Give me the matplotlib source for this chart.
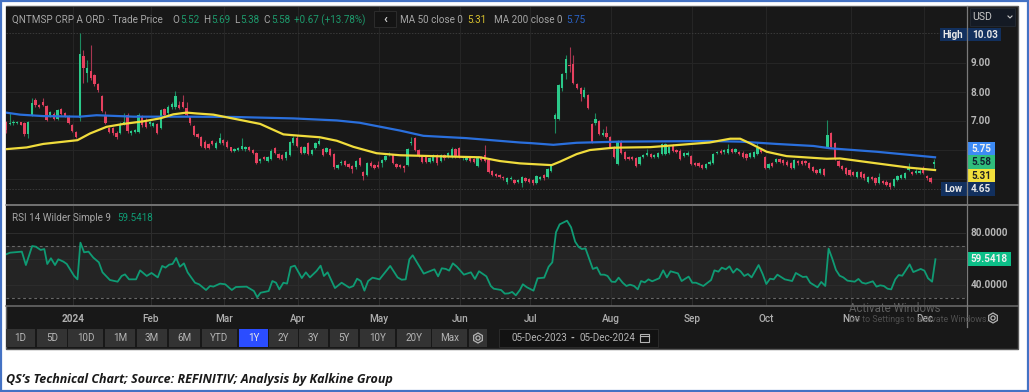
import matplotlib

matplotlib.use('Agg')

import numpy as np
import matplotlib.pyplot as plt
from matplotlib.patches import Rectangle, RegularPolygon, Circle

W, H = 1029, 392

opens = [6.98, 6.90, 6.92, 6.92, 6.95, 6.94, 6.55, 7.21, 7.72, 7.55,
         7.67, 7.52, 7.21, 7.24, 7.06, 7.40, 7.26, 7.18, 6.86, 6.63,
         7.09, 9.25, 8.64, 8.72, 8.58, 8.26, 7.86, 7.21, 6.75, 6.75,
         6.60, 6.60, 6.90, 7.21, 6.57, 6.63, 6.63, 7.15, 7.03, 6.90,
         6.83, 6.90, 6.77, 7.40, 7.26, 7.47, 7.47, 7.55, 7.67, 7.44,
         7.13, 6.84, 6.54, 6.46, 6.29, 6.21, 6.31, 6.06, 6.25, 6.34,
         6.29, 6.09, 5.97, 6.00, 6.03, 6.02, 6.11, 6.00, 5.89, 5.61,
         5.75, 5.63, 5.70, 6.06, 5.86, 5.83, 5.71, 5.83, 6.23, 6.40,
         6.11, 5.89, 6.23, 5.86, 6.06, 6.21, 6.03, 5.94, 6.02, 5.85,
         5.37, 5.54, 5.62, 5.51, 5.46, 5.40, 5.71, 5.25, 5.14, 5.57,
         5.48, 5.48, 5.56, 5.66, 5.82, 5.83, 5.52, 5.48, 5.46, 5.48,
         6.23, 6.40, 6.00, 5.79, 5.75, 5.60, 5.63, 5.83, 5.62, 5.83,
         5.77, 5.77, 6.02, 6.08, 5.71, 5.66, 5.71, 5.68, 5.46, 5.74,
         5.83, 5.66, 5.28, 5.17, 5.14, 5.08, 4.91, 4.99, 4.97, 4.91,
         4.87, 5.02, 5.00, 4.97, 4.87, 5.00, 5.14, 5.08, 5.28, 7.06,
         7.06, 8.13, 8.67, 8.93, 8.97, 8.26, 8.13, 7.84, 7.90, 6.90,
         6.92, 7.01, 6.52, 6.57, 6.46, 6.11, 5.52, 6.31, 5.94, 5.77,
         5.77, 5.71, 5.52, 5.75, 5.83, 5.85, 5.75, 5.77, 5.86, 5.86,
         5.91, 6.17, 6.00, 5.98, 5.80, 5.83, 5.79, 5.56, 5.54, 5.48,
         5.39, 5.52, 5.57, 5.89, 5.98, 5.92, 5.89, 6.02, 5.93, 5.94,
         5.91, 5.86, 5.77, 5.75, 5.86, 6.00, 5.77, 5.39, 5.54, 5.60,
         5.68, 5.66, 5.60, 5.54, 5.37, 5.63, 5.62, 5.62, 5.54, 5.40,
         5.31, 5.20, 5.33, 6.11, 6.57, 6.23, 5.62, 5.46, 5.37, 5.31,
         5.25, 5.06, 5.23, 5.16, 4.91, 5.06, 5.02, 4.88, 4.93, 4.91,
         4.85, 4.76, 4.97, 5.05, 5.05, 5.31, 5.25, 5.20, 5.20, 5.31,
         5.11, 5.02, 5.52]
closes = [6.69, 6.92, 6.98, 6.96, 6.88, 6.55, 6.98, 7.63, 7.54, 7.47,
          7.55, 7.03, 7.32, 7.06, 7.38, 7.24, 7.17, 6.94, 6.67, 6.44,
          9.30, 8.82, 8.82, 8.50, 8.26, 8.07, 7.34, 6.94, 6.63, 6.57,
          6.44, 6.90, 6.98, 6.66, 6.66, 6.69, 7.21, 6.86, 6.80, 6.98,
          6.94, 6.60, 7.38, 7.21, 7.49, 7.59, 7.86, 7.44, 7.49, 7.21,
          6.92, 6.52, 6.44, 6.15, 6.06, 6.06, 6.20, 6.25, 6.40, 6.23,
          6.11, 5.98, 6.03, 6.07, 6.15, 6.11, 6.00, 5.89, 5.57, 5.70,
          5.68, 5.75, 5.98, 5.89, 5.72, 5.68, 5.94, 6.26, 6.40, 6.14,
          5.91, 6.11, 5.86, 6.00, 6.23, 6.32, 5.83, 6.06, 5.83, 5.40,
          5.48, 5.60, 5.48, 5.43, 5.33, 5.63, 5.48, 5.11, 5.54, 5.46,
          5.39, 5.43, 5.66, 5.79, 5.86, 5.57, 5.43, 5.43, 5.39, 6.02,
          6.29, 6.00, 5.79, 5.60, 5.60, 5.71, 5.83, 5.54, 5.83, 5.71,
          5.89, 6.02, 5.77, 5.77, 5.77, 5.74, 5.63, 5.60, 5.74, 5.66,
          5.63, 5.25, 5.14, 5.10, 5.08, 5.02, 5.02, 5.05, 4.87, 4.97,
          5.08, 4.93, 4.91, 4.85, 5.10, 5.08, 5.02, 5.33, 5.46, 7.21,
          8.24, 8.62, 9.13, 8.91, 8.32, 8.13, 7.92, 8.07, 7.46, 6.29,
          7.06, 6.55, 6.57, 6.46, 6.11, 5.77, 6.29, 5.89, 5.69, 5.69,
          5.68, 5.46, 5.77, 5.83, 5.89, 5.75, 5.83, 5.89, 6.20, 6.20,
          6.11, 5.98, 5.94, 5.69, 5.89, 5.91, 5.52, 5.48, 5.46, 5.37,
          5.52, 5.60, 5.86, 5.94, 5.91, 6.00, 6.02, 5.94, 6.02, 5.86,
          5.75, 5.71, 5.89, 5.94, 6.06, 5.94, 5.39, 5.51, 5.46, 5.68,
          5.60, 5.54, 5.48, 5.37, 5.66, 5.54, 5.51, 5.54, 5.37, 5.29,
          5.22, 5.33, 5.14, 6.52, 6.11, 5.68, 5.46, 5.34, 5.17, 5.14,
          5.14, 5.25, 5.08, 5.02, 5.08, 4.99, 4.85, 5.06, 4.88, 4.79,
          4.74, 4.99, 5.10, 5.14, 5.20, 5.37, 5.17, 5.29, 5.29, 5.20,
          5.02, 4.91, 5.58]
highs = [7.00, 7.26, 7.02, 7.00, 6.97, 6.97, 7.00, 7.80, 7.80, 7.60,
         7.80, 7.55, 7.36, 7.30, 7.42, 7.44, 7.30, 7.22, 6.90, 6.66,
         10.03, 9.45, 9.10, 9.62, 8.62, 8.30, 7.90, 7.34, 6.80, 6.80,
         6.64, 6.95, 7.26, 7.26, 6.70, 6.74, 7.26, 7.20, 7.10, 7.03,
         6.98, 6.94, 7.42, 7.44, 7.54, 7.64, 8.05, 7.70, 7.90, 7.67,
         7.17, 6.88, 6.60, 6.50, 6.33, 6.25, 6.35, 6.30, 6.60, 6.38,
         6.33, 6.12, 6.08, 6.10, 6.40, 6.15, 6.15, 6.04, 5.92, 5.74,
         5.78, 5.79, 6.02, 6.10, 5.90, 5.87, 5.98, 6.30, 6.50, 6.52,
         6.15, 6.15, 6.27, 6.04, 6.27, 6.40, 6.07, 6.10, 6.06, 5.89,
         5.52, 5.64, 5.66, 5.55, 5.50, 5.67, 5.75, 5.29, 5.58, 5.61,
         5.52, 5.62, 5.70, 5.84, 5.92, 5.87, 5.56, 5.52, 5.50, 6.06,
         6.45, 6.44, 6.04, 5.83, 5.79, 5.75, 5.87, 5.87, 5.87, 5.87,
         5.93, 6.10, 6.06, 6.12, 5.81, 5.78, 5.75, 5.72, 5.78, 5.78,
         6.17, 5.70, 5.32, 5.21, 5.18, 5.12, 5.06, 5.09, 5.01, 5.01,
         5.12, 5.06, 5.04, 5.01, 5.14, 5.12, 5.18, 5.37, 5.48, 7.29,
         8.28, 8.66, 9.27, 9.55, 9.27, 8.30, 8.17, 8.16, 7.94, 6.94,
         7.26, 7.05, 6.71, 6.82, 6.50, 6.15, 6.33, 6.35, 5.98, 5.81,
         5.81, 5.75, 5.81, 5.87, 6.03, 5.89, 5.87, 5.93, 6.24, 6.24,
         6.15, 6.21, 6.04, 6.02, 5.93, 5.95, 5.83, 5.60, 5.58, 5.52,
         5.56, 5.64, 5.90, 5.98, 6.02, 6.04, 6.20, 6.06, 6.06, 5.98,
         5.95, 5.90, 5.93, 5.98, 6.23, 6.04, 5.81, 5.55, 5.58, 5.72,
         5.72, 5.70, 5.64, 5.58, 5.70, 5.67, 5.66, 5.66, 5.58, 5.44,
         5.35, 5.37, 5.37, 7.03, 6.61, 6.27, 5.66, 5.50, 5.41, 5.35,
         5.29, 5.29, 5.27, 5.20, 5.12, 5.10, 5.06, 5.20, 4.97, 4.95,
         4.89, 5.03, 5.14, 5.18, 5.24, 5.56, 5.29, 5.33, 5.33, 5.45,
         5.15, 5.06, 5.69]
lows = [6.60, 6.85, 6.88, 6.90, 6.86, 6.50, 6.42, 7.18, 7.50, 7.44,
        7.52, 7.00, 7.15, 7.02, 7.02, 7.20, 7.14, 6.90, 6.62, 6.40,
        7.00, 8.30, 8.35, 8.40, 8.22, 8.00, 7.30, 6.90, 6.60, 6.52,
        6.38, 6.55, 6.86, 6.60, 6.52, 6.58, 6.58, 6.80, 6.76, 6.84,
        6.78, 6.55, 6.72, 7.18, 7.22, 7.43, 7.43, 7.40, 7.45, 7.17,
        6.88, 6.48, 6.40, 6.10, 6.02, 6.02, 6.16, 6.02, 6.20, 6.18,
        6.07, 5.94, 5.92, 5.96, 5.99, 5.98, 5.96, 5.85, 5.53, 5.57,
        5.64, 5.59, 5.66, 5.85, 5.68, 5.64, 5.67, 5.79, 6.19, 6.10,
        5.87, 5.85, 5.82, 5.82, 6.02, 6.17, 5.79, 5.90, 5.79, 5.36,
        5.33, 5.50, 5.44, 5.39, 5.20, 5.36, 5.44, 4.97, 5.10, 5.42,
        5.35, 5.39, 5.40, 5.62, 5.78, 5.53, 5.39, 5.39, 5.25, 5.44,
        6.19, 5.96, 5.75, 5.56, 5.56, 5.56, 5.59, 5.50, 5.58, 5.67,
        5.73, 5.73, 5.73, 5.73, 5.67, 5.62, 5.59, 5.56, 5.42, 5.62,
        5.59, 5.21, 5.10, 5.06, 5.04, 4.98, 4.82, 4.95, 4.83, 4.87,
        4.74, 4.89, 4.87, 4.81, 4.83, 4.96, 4.98, 5.04, 5.24, 6.57,
        7.02, 8.05, 8.44, 8.68, 8.28, 8.09, 7.69, 7.80, 7.42, 6.25,
        6.88, 6.51, 6.48, 6.42, 6.07, 5.73, 5.48, 5.85, 5.65, 5.65,
        5.64, 5.42, 5.48, 5.71, 5.79, 5.71, 5.71, 5.73, 5.82, 5.82,
        5.87, 5.94, 5.90, 5.65, 5.76, 5.79, 5.48, 5.44, 5.42, 5.33,
        5.35, 5.48, 5.53, 5.85, 5.87, 5.88, 5.85, 5.90, 5.89, 5.82,
        5.71, 5.67, 5.73, 5.71, 5.82, 5.90, 5.35, 5.35, 5.42, 5.56,
        5.56, 5.50, 5.44, 5.33, 5.33, 5.50, 5.47, 5.50, 5.33, 5.25,
        5.18, 5.16, 5.10, 6.07, 6.07, 5.64, 5.42, 5.30, 5.13, 5.10,
        5.10, 5.02, 5.04, 4.98, 4.87, 4.95, 4.81, 4.84, 4.84, 4.75,
        4.65, 4.72, 4.93, 5.01, 5.01, 5.27, 5.13, 5.16, 5.16, 5.16,
        4.98, 4.87, 5.38]

ma50_bars = [0, 5.6, 10.1, 19.4, 22.8, 27.3, 31.9, 37.3, 41.8, 45.4, 49, 51.8, 56.3, 59.9, 69, 75.3, 78, 85.2,
             89.8, 94.3, 100.6, 107, 116, 128.7, 134.1, 139.5, 142.3, 148.1, 150.4, 154.9, 158.5, 164.9, 174.9,
             182, 191, 196.6, 199.3, 202, 206.5, 211.9, 222.8, 226.4, 236.4, 245.4, 252.2]
ma50 = [6.03, 6.09, 6.21, 6.34, 6.57, 6.80, 6.90, 6.99, 7.09, 7.23, 7.29, 7.26, 7.22, 7.13, 6.90, 6.54, 6.51, 6.44,
        6.32, 6.11, 5.89, 5.82, 5.79, 5.75, 5.62, 5.54, 5.52, 5.48, 5.60, 5.86, 6.00, 6.08, 6.10,
        6.17, 6.26, 6.39, 6.39, 6.23, 5.94, 5.79, 5.70, 5.71, 5.54, 5.39, 5.31]
ma200_bars = [0, 3.8, 10.1, 20, 24.6, 34.6, 49, 61.7, 78, 89.8, 96, 107, 113.3, 125, 139.5, 142.3, 148.6, 154.9,
              166.7, 191, 199.3, 209.2, 219.2, 223.7, 236.4, 252.2]
ma200 = [7.29, 7.22, 7.17, 7.15, 7.20, 7.15, 7.15, 7.14, 7.09, 7.02, 6.94, 6.67, 6.49, 6.41, 6.26, 6.24, 6.18, 6.25,
         6.29, 6.31, 6.29, 6.21, 6.14, 6.06, 5.94, 5.75]

rsi_bars = [0, 1.1, 4.3, 5.4, 7.1, 8.1, 9.4, 10.4, 11.2, 12.2, 13.3, 14.2, 15.6, 16.5, 18.5, 19.4, 20.2, 21.2, 22.4,
            23.7, 25.2, 26.2, 28.2, 30.3, 31.4, 32.3, 33.4, 35.3, 36.4, 38.2, 39.5, 41.2, 42.4, 43.3, 44.3, 45.2,
            46.2, 47.2, 48.3, 49.3, 51.3, 52.4, 54.3, 55.4, 56.3, 58.1, 59.5, 61.3, 62.4, 65.3, 67.3, 68.2, 69.1,
            71.3, 72.3, 73.3, 74.2, 75.3, 76.3, 77.3, 78.4, 80.3, 81.4, 82.5, 84.3, 85.4, 86.3, 87.3, 89.3, 91.1,
            93.2, 94.3, 95.3, 96.3, 97.3, 98.3, 99.5, 101.4, 104.3, 106.3, 107.4, 108.5, 109.5, 110.4, 113.4, 116.3,
            117.3, 118.3, 119.4, 120.3, 121.3, 122.4, 124.3, 126.2, 127.3, 128.4, 130.4, 131.6, 132.4, 134.4, 135.4,
            136.4, 137.4, 138.4, 139.5, 140.3, 141.4, 143.2, 144.3, 146.1, 147.3, 148.3, 149.3, 150.3, 152.3, 153.4,
            154.5, 155.4, 156.3, 157.3, 159.3, 160.4, 161.4, 162.4, 163.3, 164.4, 165.4, 166.3, 167.4, 168.4, 169.4,
            170.5, 171.5, 172.4, 173.4, 174.4, 175.4, 177.3, 178.4, 179.4, 180.4, 182.4, 183.4, 185.3, 186.3, 187.3,
            189.3, 191.4, 192.3, 193.4, 194.3, 195.4, 196.4, 197.4, 198.4, 199.4, 200.4, 201.4, 202.4, 204.3, 205.4,
            206.4, 207.4, 208.4, 209.4, 211.4, 213.4, 214.4, 216.3, 217.3, 218.3, 220.3, 221.3, 222.4, 223.3, 224.3,
            225.3, 226.3, 227.3, 228.4, 230.4, 231.4, 232.4, 233.4, 235.3, 236.3, 237.3, 238.3, 239.3, 240.3, 241.4,
            242.3, 243.3, 245.3, 246.3, 248.3, 249.3, 250.3, 251.4, 252.3]
rsi = [63.3, 64.6, 65.4, 55.1, 69.7, 69.2, 66.7, 67.4, 55.9, 60.3, 55.1, 59.5, 57.7, 55.9, 46.7, 44.1, 72.3, 64.9, 65.4,
       60.8, 57.2, 49.5, 43.6, 42.3, 46.7, 47.9, 44.1, 44.1, 51.0, 46.7, 49.0, 45.6, 54.4, 53.1, 55.4, 55.9,
       60.5, 53.8, 56.4, 49.5, 41.5, 40.3, 35.9, 39.0, 38.5, 40.8, 40.3, 35.9, 38.2, 38.5, 35.1, 30.3, 33.8,
       35.1, 42.8, 41.5, 36.4, 41.5, 40.8, 53.6, 54.6, 45.1, 49.5, 45.6, 50.5, 54.6, 46.7, 49.5, 37.4, 41.5,
       37.7, 39.0, 44.6, 42.8, 35.4, 42.8, 45.4, 44.1, 54.4, 45.6, 43.8, 44.1, 59.5, 62.6, 48.5, 51.8,
       46.4, 52.6, 52.1, 50.8, 56.4, 53.8, 47.7, 49.5, 44.4, 50.3, 46.4, 39.0, 36.9, 35.9, 33.1,
       33.3, 34.4, 31.8, 35.9, 40.3, 38.0, 35.4, 44.9, 45.4, 53.8, 57.2, 80.3, 86.4, 89.2, 84.1,
       73.1, 69.2, 67.4, 67.9, 52.1, 53.3, 47.7, 47.7, 46.7, 42.3, 42.1, 45.4, 41.5, 39.0, 40.0,
       39.0, 36.4, 42.8, 41.8, 44.1, 42.6, 44.9, 51.0, 45.6, 50.3, 48.7, 42.8, 46.2, 41.5, 41.5,
       39.0, 43.6, 51.0, 50.0, 53.1, 51.8, 54.1, 49.2, 52.3, 50.3, 46.7, 48.2, 45.6, 55.1, 48.2,
       40.5, 44.6, 44.1, 47.7, 44.1, 42.8, 49.0, 45.9, 46.2, 41.5, 38.0, 42.1, 39.0, 67.7, 60.0,
       51.3, 46.9, 45.6, 43.1, 42.3, 44.4, 41.5, 40.8, 42.6, 38.5, 39.5, 39.0, 36.9, 36.4, 44.1,
       47.4, 46.9, 55.6, 49.7, 52.1, 50.8, 44.9, 42.3, 59.54]

month_bars = [18.2, 39.3, 59.2, 79.2, 101.2, 123.3, 142.3, 164.3, 186.3, 206.3, 229.3, 249.3]
month_labels = ["2024", "Feb", "Mar", "Apr", "May", "Jun", "Jul", "Aug", "Sep", "Oct", "Nov", "Dec"]
price_ticks = [5, 6, 7, 8, 9]
range_names = ["1D", "5D", "10D", "1M", "3M", "6M", "YTD", "1Y", "2Y", "3Y", "5Y", "10Y", "20Y", "Max"]
range_edges = [(6, 35), (37, 67), (68, 103), (105, 135), (137, 167), (169, 200), (202, 237), (239, 268),
               (269, 298), (299, 328), (330, 358), (360, 395), (397, 431), (432, 467)]

BG = "#181818"
GRID = "#262626"
GREEN = "#2bc98a"
RED = "#e6415f"
YELLOW = "#f0dc3c"
BLUE = "#2a6fdc"
TXT = "#a6a6a6"
NAVY = "#12305e"

plt.rcParams['font.family'] = ['Roboto', 'DejaVu Sans']

fig = plt.figure(figsize=(W / 100, H / 100), dpi=100, facecolor="white")


def px_axes(x0, y0, x1, y1, **kw):
    return fig.add_axes([x0 / W, 1 - y1 / H, (x1 - x0) / W, (y1 - y0) / H], **kw)


# frame + dark panel sit behind the plots
back = px_axes(0, 0, W, H, zorder=0)
back.set_xlim(0, W)
back.set_ylim(H, 0)
back.axis("off")
back.add_patch(Rectangle((0.8, 0.8), W - 1.6, H - 1.6, fc="white", ec="#4472c4", lw=1.6))
back.add_patch(Rectangle((5.5, 6), 1012.5, 343, fc=BG, ec="#5a5a5a", lw=1))

x_end = 260.6

# price panel
ax = px_axes(6, 7, 966, 204, zorder=1)
ax.set_facecolor(BG)
ax.set_xlim(0, x_end)
ax.set_ylim(4.14, 10.93)
ax.set_xticks(month_bars)
ax.set_yticks(price_ticks)
ax.grid(True, color=GRID, lw=0.7)
ax.set_axisbelow(True)
ax.tick_params(length=0, labelbottom=False, labelleft=False)
for s in ax.spines.values():
    s.set_visible(False)
ax.axhline(max(highs), color="#3a3a3a", lw=0.7, ls=(0, (1.5, 1.5)))
ax.axhline(min(lows), color="#3a3a3a", lw=0.7, ls=(0, (1.5, 1.5)))

o = np.array(opens)
c = np.array(closes)
bars = np.arange(len(o))
cols = [GREEN if c[i] >= o[i] else RED for i in bars]
wick_cols = ["#1c8a60" if c[i] >= o[i] else "#a83650" for i in bars]
ax.vlines(bars, lows, highs, colors=wick_cols, lw=0.8, zorder=2)
ax.bar(bars, np.abs(c - o), bottom=np.minimum(o, c), width=0.62, color=cols, lw=0, zorder=3)
ax.plot(ma200_bars, ma200, color=BLUE, lw=1.6, zorder=4)
ax.plot(ma50_bars, ma50, color=YELLOW, lw=1.6, zorder=5)

# rsi panel
ax2 = px_axes(6, 206, 966, 306, zorder=1)
ax2.set_facecolor(BG)
ax2.set_xlim(0, x_end)
ax2.set_ylim(23.6, 100.5)
ax2.axhspan(30, 70, color="#242424", lw=0, zorder=0)
ax2.axhline(70, color="#686868", lw=0.8, ls=(0, (2.5, 2.5)))
ax2.axhline(30, color="#686868", lw=0.8, ls=(0, (2.5, 2.5)))
ax2.set_xticks(month_bars, month_labels, color="#b0b0b0", fontsize=7.2, fontweight="medium")
ax2.get_xticklabels()[0].set_fontweight("bold")
ax2.set_yticks([40, 60, 80])
ax2.grid(True, color="#2d2d2d", lw=0.7)
ax2.set_axisbelow(True)
ax2.tick_params(length=0, labelleft=False, pad=5.5)
for s in ax2.spines.values():
    s.set_visible(False)
ax2.plot(rsi_bars, rsi, color="#0f9b74", lw=1.3, zorder=4)

# texts, badges and buttons on top
top = px_axes(0, 0, W, H, zorder=5)
top.patch.set_visible(False)
top.set_xlim(0, W)
top.set_ylim(H, 0)
top.axis("off")


def label(x, y, s, color=TXT, size=7.1, ha="left", weight="normal", **kw):
    top.text(x, y, s, color=color, fontsize=size, ha=ha, va="center", fontweight=weight, **kw)


def box(x0, y0, x1, y1, fc, ec="none", lw=0):
    top.add_patch(Rectangle((x0, y0), x1 - x0, y1 - y0, fc=fc, ec=ec, lw=lw))


def gear(x, y, r=5):
    top.add_patch(RegularPolygon((x, y), 6, radius=r, fc="none", ec="#b5b5b5", lw=0.9))
    top.add_patch(Circle((x, y), r * 0.42, fc="none", ec="#b5b5b5", lw=0.9))


top.plot([6, 1018], [204.5, 204.5], color="#8c8c8c", lw=1.1)
top.plot([6, 1018], [306, 306], color="#6e6e6e", lw=1.1)
top.plot([966.5, 966.5], [6, 327], color="#7a7a7a", lw=0.9)

label(12, 20, "QNTMSP CRP A ORD · Trade Price")
for x, s in [(172, "O"), (203, "H"), (234, "L"), (263, "C")]:
    label(x, 20, s)
for x, s in [(180, "5.52"), (211, "5.69"), (240, "5.38"), (271, "5.58"), (294, "+0.67 (+13.78%)")]:
    label(x, 20, s, color="#1d9a6c")
box(374, 11, 396, 27, "#141414", "#2c2c2c", 0.7)
label(385, 19, "‹", color="#d0d0d0", size=9, ha="center", weight="bold")
label(400, 20, "MA 50 close 0")
label(467, 20, "5.31", color="#d9c22e")
label(494, 20, "MA 200 close 0")
label(566, 20, "5.75", color="#2a62c4")
label(12, 218, "RSI 14 Wilder Simple 9")
label(117, 218, "59.5418", color="#0f9b74")

box(970, 8, 1015, 26, "#141a24", "#222831", 0.7)
label(972, 17, "USD", color="#c8c8c8", size=7.6)
top.plot([1008, 1010, 1012], [16, 18, 16], color="#c8c8c8", lw=0.8)

for y, s in [(63, "9.00"), (92.5, "8.00"), (121, "7.00")]:
    label(981, y, s, color="#b8b8b8", ha="center", weight="bold")

box(940, 28, 966, 41, NAVY)
label(953, 34.5, "High", color="#e8e8e8", ha="center", weight="bold")
box(966, 28, 1001, 41, NAVY)
label(985, 34.5, "10.03", color="#e8e8e8", ha="center", weight="bold")
box(967, 142, 995, 155, "#3d8bf5")
label(981, 148.5, "5.75", color="#f0f0f0", ha="center", weight="bold")
box(967, 155, 995, 169, "#2fbe7c")
label(981, 162, "5.58", color="#123", ha="center", weight="bold")
box(967, 169, 995, 182, "#f2e03c")
label(981, 175.5, "5.31", color="#222", ha="center", weight="bold")
box(941, 182, 966, 196, NAVY)
label(953.5, 189, "Low", color="#e8e8e8", ha="center", weight="bold")
box(966, 182, 995, 196, NAVY)
label(981, 189, "4.65", color="#e8e8e8", ha="center", weight="bold")

for y, s in [(232.7, "80.0000"), (284.7, "40.0000")]:
    label(989, y, s, color="#b8b8b8", ha="center", weight="bold")
box(967, 252, 1011, 266, "#0cbf88")
label(989, 259, "59.5418", color="#f0f0f0", ha="center", weight="bold")

gear(993, 318)
for (x0, x1), s in zip(range_edges, range_names):
    active = s == "1Y"
    box(x0, 329, x1, 347, "#2b4dff" if active else "#333333")
    label((x0 + x1) / 2, 338, s, color="#e8e8e8" if active else "#b4b4b4", ha="center")
box(469, 329, 487, 347, "#333333")
gear(478, 338)
box(499, 329, 658, 347, "#121212", "#2a2a2a", 0.7)
label(511, 338, "05-Dec-2023", color="#b4b4b4")
label(572, 338, "-", color="#b4b4b4", ha="center", weight="bold")
label(579, 338, "05-Dec-2024", color="#b4b4b4")
box(640, 334, 649, 342, "none", "#b4b4b4", 0.8)
top.plot([640, 649], [336.2, 336.2], color="#b4b4b4", lw=0.8)

label(849, 308, "Activate Windows", color="#5e5e5e", size=8.3)
label(849, 320, "Go to Settings to activate Windows.", color="#4f4f4f", size=6.4)

top.text(6, 380, "QS’s Technical Chart; Source: REFINITIV; Analysis by Kalkine Group", color="#1a1a1a",
         fontsize=9, family=["Open Sans", "DejaVu Sans"], fontweight="bold", fontstyle="italic", va="center")

fig.savefig("out.png", dpi=100)
